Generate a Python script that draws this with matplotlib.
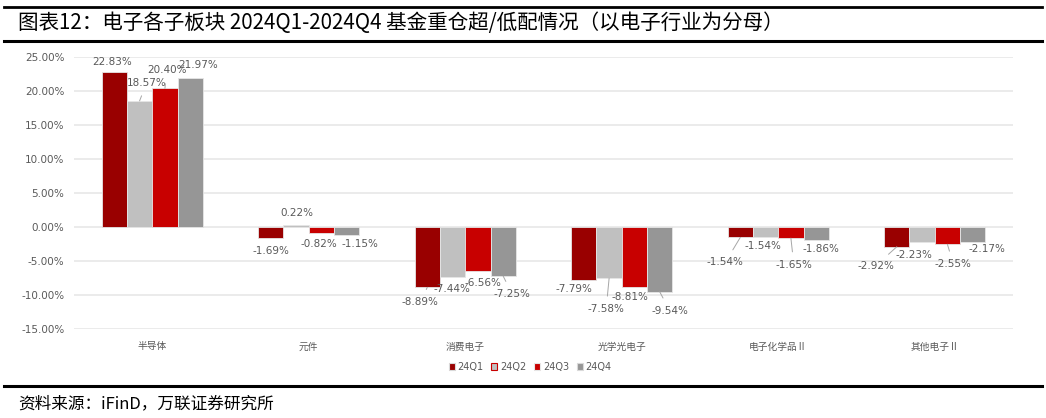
import matplotlib.pyplot as plt
import numpy as np
from matplotlib.patches import Patch
from matplotlib.lines import Line2D

plt.rcParams['font.family'] = ['Noto Sans CJK SC', 'DejaVu Sans']

# data
categories = ['半导体', '元件', '消费电子', '光学光电子', '电子化学品Ⅱ', '其他电子Ⅱ']
series_names = ['24Q1', '24Q2', '24Q3', '24Q4']
q1 = [22.83, -1.69, -8.89, -7.79, -1.54, -2.92]
q2 = [18.57, 0.22, -7.44, -7.58, -1.54, -2.23]
q3 = [20.40, -0.82, -6.56, -8.81, -1.65, -2.55]
q4 = [21.97, -1.15, -7.25, -9.54, -1.86, -2.17]
yticks = [-15, -10, -5, 0, 5, 10, 15, 20, 25]

colors = ['#990000', '#C0C0C0', '#C80000', '#969696']

# label offsets in pixels (dx, dy downwards, leader line or not), per series
off_q = {
    0: [(-2, -10, 0), (0, 13, 0), (-7, 15, 1), (-10, 9, 0), (-15, 25, 1), (-21, 19, 1)],
    1: [(7, -18, 1), (1, -12, 0), (-1, 12, 0), (-3, 31, 1), (-3, 9, 0), (-8, 13, 0)],
    2: [(2, -18, 1), (-3, 11, 0), (5, 12, 0), (-4, 10, 0), (3, 27, 1), (6, 20, 1)],
    3: [(8, -13, 0), (13, 9, 0), (9, 18, 1), (10, 19, 1), (5, 9, 0), (14, 7, 0)],
}

fig = plt.figure(figsize=(10.46, 4.18), dpi=100)
ax = fig.add_axes([74 / 1046, 1 - 329 / 418, 939 / 1046, 272 / 418])

x = np.arange(len(categories))
w = 0.1617
all_vals = [q1, q2, q3, q4]
for j, vals in enumerate(all_vals):
    xs = x + (j - 1.5) * w
    ax.bar(xs, vals, width=w, color=colors[j], edgecolor='#E6E6E6', linewidth=0.6, zorder=3)
    for i, v in enumerate(vals):
        dx, dy, lead = off_q[j][i]
        arrow = None
        if lead:
            arrow = dict(arrowstyle='-', color='#A6A6A6', lw=0.7, shrinkA=4, shrinkB=0)
        ax.annotate(f'{v:.2f}%', xy=(xs[i], v), xytext=(dx, -dy), textcoords='offset pixels',
                    ha='center', va='center', fontsize=7.5, color='#595959',
                    family='DejaVu Sans', arrowprops=arrow, zorder=4)

ax.set_xlim(-0.5, len(categories) - 0.5)
ax.set_ylim(-15.03, 25.03)
ax.set_yticks(yticks)
ax.set_yticklabels([f'{t:.2f}%' for t in yticks], family='DejaVu Sans', fontsize=7.5, color='#595959')
ax.set_xticks(x)
ax.set_xticklabels(categories, fontsize=7, color='#595959')
ax.tick_params(axis='both', length=0)
ax.tick_params(axis='y', pad=7)
ax.tick_params(axis='x', pad=9)
ax.grid(axis='y', color='#E6E6E6', lw=1.1, zorder=0)
for s in ax.spines.values():
    s.set_visible(False)

edges = ['#D9D9D9', '#C80000', '#E6E6E6', '#D9D9D9']
handles = [Patch(facecolor=c, edgecolor=e, lw=0.8) for c, e in zip(colors, edges)]
fig.legend(handles, series_names, loc='center', bbox_to_anchor=(0.507, 1 - 367 / 418), ncol=4,
           frameon=False, prop={'family': 'DejaVu Sans', 'size': 7},
           handlelength=0.6, handleheight=0.6, handletextpad=0.3, columnspacing=0.8,
           labelcolor='#595959')

# frame lines and texts
for yy, lw in [(1 - 6.5 / 418, 2.0), (1 - 41 / 418, 2.2), (1 - 386 / 418, 2.2)]:
    fig.add_artist(Line2D([0.004, 0.996], [yy, yy], color='black', lw=lw, transform=fig.transFigure))

fig.text(0.017, 1 - 23 / 418, '图表12：电子各子板块 2024Q1-2024Q4 基金重仓超/低配情况（以电子行业为分母）',
         fontsize=14.8, va='center', ha='left', color='black')
fig.text(0.017, 1 - 404 / 418, '资料来源：iFinD，万联证券研究所', fontsize=12, va='center', ha='left',
         color='black', style='italic')

fig.savefig('out.png', dpi=100)
